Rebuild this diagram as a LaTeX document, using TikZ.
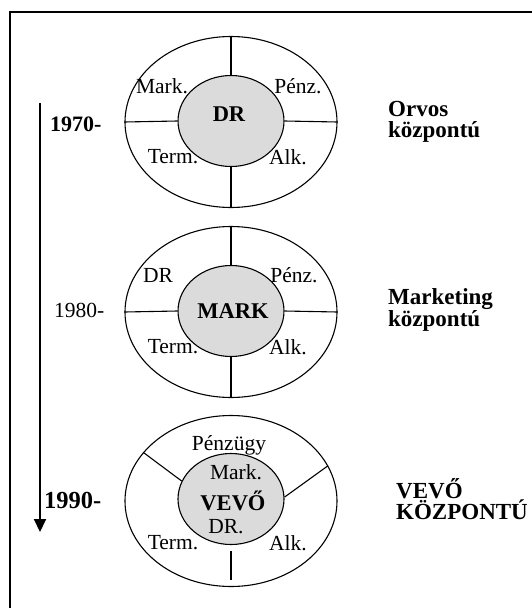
\documentclass[tikz,border=0pt]{standalone}
\usepackage{fontspec}
\setmainfont{Liberation Serif}
\usetikzlibrary{shapes.geometric,arrows.meta}
\begin{document}
\begin{tikzpicture}[x=1pt,y=-1pt,
  outer/.style={ellipse,draw,line width=1.1pt,minimum width=212pt,minimum height=171pt,inner sep=0pt},
  inner/.style={ellipse,draw,line width=1.1pt,fill=black!14,minimum width=106pt,minimum height=91pt,inner sep=0pt},
  part/.style={line width=1.1pt},
  lbl/.style={inner sep=0pt,font=\fontsize{21.5}{24}\selectfont},
  core/.style={inner sep=0pt,font=\bfseries\fontsize{22.5}{24}\selectfont},
  year/.style={inner sep=0pt,anchor=west},
  side/.style={inner sep=0pt,anchor=west,align=left,font=\bfseries\fontsize{23}{21.5}\selectfont}]
\clip (0,0) rectangle (532,608);
\useasboundingbox (0,0) rectangle (532,608);
\fill[white] (0,0) rectangle (532,608);

% page frame (only its top and left edges fall inside the page)
\draw[line width=2pt] (560,12) -| (10,640);

% time axis
\coordinate (tstart) at (40,103);
\coordinate (tend) at (40,532);
\draw[line width=2pt,-{Triangle[length=13pt,width=12pt]}] (tstart) -- (tend);

% ---- 1970: doctor-centred ----
\node[outer] (o1) at (231,122) {};
\node[inner] (i1) at (231,121) {};
\draw[part] (o1.north) -- (i1.north);
\draw[part] (i1.south) -- (o1.south);
\draw[part] (o1.west) -- (i1.west);
\draw[part] (i1.east) -- (o1.east);
\node[lbl] (m1) at (162,86) {Mark.};
\node[lbl] (p1) at (298,86) {Pénz.};
\node[lbl] (t1) at (173,157) {Term.};
\node[lbl] (a1) at (288,157) {Alk.};
\node[core] (c1) at (229,114) {DR};
\node[year,font=\bfseries\fontsize{22}{24}\selectfont] (y1) at (50,124) {1970-};
\node[side] (s1) at (388,122) {Orvos\\központú};

% ---- 1980: marketing-centred ----
\node[outer] (o2) at (231,312) {};
\node[inner] (i2) at (231,311) {};
\draw[part] (o2.north) -- (i2.north);
\draw[part] (i2.south) -- (o2.south);
\draw[part] (o2.west) -- (i2.west);
\draw[part] (i2.east) -- (o2.east);
\node[lbl] (m2) at (158,275) {DR};
\node[lbl] (p2) at (294,275) {Pénz.};
\node[lbl] (t2) at (173,347) {Term.};
\node[lbl] (a2) at (288,347) {Alk.};
\node[core] (c2) at (233,311) {MARK};
\node[year,font=\fontsize{21.5}{24}\selectfont] (y2) at (54,310) {1980-};
\node[side] (s2) at (388,310) {Marketing\\központú};

% ---- 1990: customer-centred ----
\node[outer] (o3) at (231,501) {};
\node[inner] (i3) at (231,499) {};
\draw[part] (o3.151) -- (i3.160);
\draw[part] (i3.2) -- (o3.20);
\draw[part] ([yshift=-6pt]i3.south) -- ([yshift=7pt]o3.south);
\node[lbl] (p3) at (229,445) {Pénzügy};
\node[lbl] (m3) at (236,472) {Mark.};
\node[core] (c3) at (233,501) {VEVŐ};
\node[lbl] (d3) at (226,527) {DR.};
\node[lbl] (t3) at (173,543) {Term.};
\node[lbl] (a3) at (288,543) {Alk.};
\node[year,font=\bfseries\fontsize{24.5}{26}\selectfont] (y3) at (44,500) {1990-};
\node[side] (s3) at (396,499) {VEVŐ\\KÖZPONTÚ};
\end{tikzpicture}
\end{document}
